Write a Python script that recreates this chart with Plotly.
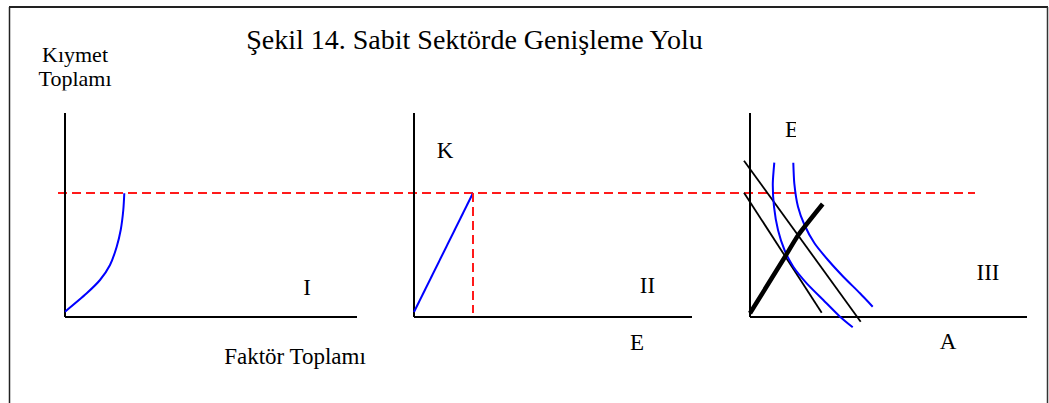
import plotly.graph_objects as go

W, H = 1049, 403

# Panel origins (corner where the two axes meet) and axis lengths
PANEL_ORIGIN_X = [65, 414, 750]
PANEL_ORIGIN_Y = 86
PANEL_X_LEN = [292, 278, 277]
PANEL_Y_LEN = 204

# Panel I: value total vs. factor total
curve1_x = [0, 21.7, 35, 45, 51.7, 55.7, 58.3, 59.3]
curve1_y = [5.3, 23.7, 37, 52, 70.3, 87, 107, 123.7]

# Panel II: linear K-E relation
line2_x = [0, 59]
line2_y = [5, 124]
drop2_x = [59, 59]
drop2_y = [124, 4]

# Panel III: budget lines, isoquants and expansion path
budget_a_x = [-6, 110.7]
budget_a_y = [156.3, -4.7]
budget_b_x = [-6, 71.7]
budget_b_y = [124.3, 4.3]
iso_in_x = [24.3, 22.8, 24.0, 28.0, 34.5, 43.3, 56.7, 73.3, 90, 102.7]
iso_in_y = [154.3, 133.7, 110.3, 87, 67, 50.3, 33.7, 17, 0.3, -10.3]
iso_out_x = [43.3, 44.3, 48.0, 54.5, 64.5, 78.0, 93.3, 110, 122.7]
iso_out_y = [154.3, 133.7, 110.3, 92, 73.7, 57, 40.3, 23.7, 10.3]
path_x = [0, 35, 48.3, 72.7]
path_y = [3.7, 60.3, 82, 113]

# Common output level (horizontal guide), global x span
level_y = 124
level_x = [58, 975]

# Text labels: (text, x, y, size) in global units
labels = [
    ("Şekil 14. Sabit Sektörde Genişleme Yolu", 474.5, 403 - 41.5, 28),
    ("Kıymet", 75, 403 - 56, 22),
    ("Toplamı", 75, 403 - 80, 22),
    ("Faktör Toplamı", 295, 403 - 358, 23),
    ("I", 307, 403 - 289, 23),
    ("K", 445, 403 - 152.5, 23),
    ("II", 647.5, 403 - 287.5, 23),
    ("E", 637, 403 - 344, 23),
    ("E", 792, 403 - 131.7, 23),
    ("III", 988, 403 - 274, 23),
    ("A", 948, 403 - 343, 23),
]

fig = go.Figure()


def add_line(panel, xs, ys, color, width, dash=None, shape="linear", smoothing=None):
    ox = PANEL_ORIGIN_X[panel]
    line = dict(color=color, width=width, dash=dash, shape=shape)
    if smoothing is not None:
        line["smoothing"] = smoothing
    fig.add_trace(go.Scatter(
        x=[ox + v for v in xs],
        y=[PANEL_ORIGIN_Y + v for v in ys],
        mode="lines",
        line=line,
        hoverinfo="skip",
        showlegend=False,
    ))


# Horizontal dashed guide across all panels
fig.add_trace(go.Scatter(
    x=level_x, y=[PANEL_ORIGIN_Y + level_y] * 2, mode="lines",
    line=dict(color="#ff1a1a", width=2, dash="9px,5px"),
    hoverinfo="skip", showlegend=False,
))

# Axes of each panel
for p in range(3):
    add_line(p, [0, 0], [PANEL_Y_LEN, 0], "black", 2)
    add_line(p, [0, PANEL_X_LEN[p]], [0, 0], "black", 2)

add_line(0, curve1_x, curve1_y, "#0000ff", 2, shape="spline", smoothing=0.8)

add_line(1, line2_x, line2_y, "#0000ff", 2)
add_line(1, drop2_x, drop2_y, "#ff1a1a", 2, dash="9px,5px")

add_line(2, budget_a_x, budget_a_y, "black", 1.8)
add_line(2, budget_b_x, budget_b_y, "black", 1.8)
add_line(2, iso_in_x, iso_in_y, "#0000ff", 2, shape="spline", smoothing=0.6)
add_line(2, iso_out_x, iso_out_y, "#0000ff", 2, shape="spline", smoothing=0.6)
add_line(2, path_x, path_y, "black", 4.5, shape="spline", smoothing=0.5)

for text, x, y, size in labels:
    fig.add_trace(go.Scatter(
        x=[x], y=[y], mode="text", text=[text], textposition="middle center",
        textfont=dict(family="Liberation Serif", size=size, color="black"),
        hoverinfo="skip", showlegend=False,
    ))

shapes = [
    # text boxes clipped at their edges
    dict(type="rect", xref="paper", yref="paper",
         x0=30 / W, x1=125 / W, y0=1 - 110 / H, y1=1 - 90.5 / H,
         fillcolor="white", line=dict(width=0), layer="above"),
    dict(type="rect", xref="paper", yref="paper",
         x0=796 / W, x1=810 / W, y0=1 - 145 / H, y1=1 - 118 / H,
         fillcolor="white", line=dict(width=0), layer="above"),
    # outer frame
    dict(type="line", xref="paper", yref="paper", x0=9 / W, x1=1048 / W,
         y0=1 - 7 / H, y1=1 - 7 / H, line=dict(color="#222", width=2), layer="above"),
    dict(type="line", xref="paper", yref="paper", x0=9.5 / W, x1=9.5 / W,
         y0=0, y1=1 - 7 / H, line=dict(color="#222", width=1.5), layer="above"),
    dict(type="line", xref="paper", yref="paper", x0=1047.5 / W, x1=1047.5 / W,
         y0=0, y1=1 - 7 / H, line=dict(color="#333", width=1.5), layer="above"),
]

fig.update_layout(
    width=W, height=H,
    margin=dict(l=0, r=0, t=0, b=0),
    paper_bgcolor="white", plot_bgcolor="white",
    xaxis=dict(range=[0, W], visible=False, fixedrange=True),
    yaxis=dict(range=[0, H], visible=False, fixedrange=True),
    shapes=shapes,
)

fig.write_html("out.html", config={"displayModeBar": False})
